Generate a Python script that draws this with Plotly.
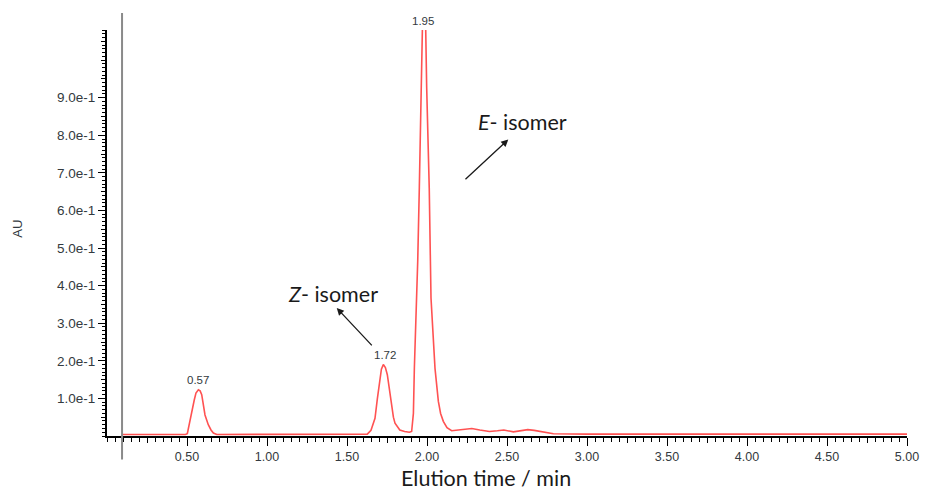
import plotly.graph_objects as go

# ---- data ----
time_min = [0.094, 0.2, 0.3, 0.4, 0.49, 0.502, 0.515, 0.529, 0.545, 0.556, 0.571, 0.582,
            0.592, 0.6125, 0.633, 0.65, 0.665, 0.686, 0.8, 1.0, 1.2, 1.4, 1.55, 1.627,
            1.65, 1.675, 1.69, 1.70, 1.715, 1.727, 1.74, 1.752, 1.773, 1.79, 1.80, 1.83,
            1.86, 1.89, 1.904, 1.915, 1.921, 1.932, 1.942, 1.952, 1.961, 1.966, 1.972,
            1.986, 1.992, 1.998, 2.006, 2.014, 2.025, 2.038, 2.05, 2.071, 2.085, 2.102,
            2.125, 2.154, 2.2, 2.25, 2.28, 2.33, 2.39, 2.44, 2.48, 2.54, 2.60, 2.63,
            2.67, 2.71, 2.79, 3.0, 3.3, 3.45, 3.55, 3.7, 3.85, 3.95, 4.05, 4.15, 4.3,
            4.45, 4.6, 4.72, 4.8, 4.85, 4.9, 5.0]
au = [0.004, 0.004, 0.004, 0.004, 0.004, 0.006, 0.035, 0.065, 0.095, 0.114, 0.123, 0.12,
      0.11, 0.056, 0.03, 0.016, 0.008, 0.004, 0.004, 0.004, 0.004, 0.004, 0.004, 0.005,
      0.015, 0.047, 0.1, 0.137, 0.178, 0.19, 0.182, 0.163, 0.092, 0.05, 0.034, 0.016,
      0.012, 0.01, 0.012, 0.06, 0.18, 0.32, 0.465, 0.66, 0.927, 1.08, 1.10,
      1.10, 1.08, 0.927, 0.8, 0.66, 0.367, 0.26, 0.18, 0.092, 0.06, 0.039,
      0.022, 0.014, 0.016, 0.02, 0.02, 0.016, 0.012, 0.014, 0.016, 0.011, 0.014, 0.017,
      0.015, 0.012, 0.006, 0.005, 0.005, 0.005, 0.006, 0.005, 0.005, 0.007, 0.007, 0.005, 0.006,
      0.006, 0.006, 0.005, 0.005, 0.007, 0.005, 0.005]

x_label_vals = [0.5, 1.0, 1.5, 2.0, 2.5, 3.0, 3.5, 4.0, 4.5, 5.0]
x_label_text = ["0.50", "1.00", "1.50", "2.00", "2.50", "3.00", "3.50", "4.00", "4.50", "5.00"]
x_mid_vals = [0.25, 0.75, 1.25, 1.75, 2.25, 2.75, 3.25, 3.75, 4.25, 4.75]
y_label_vals = [0.1, 0.2, 0.3, 0.4, 0.5, 0.6, 0.7, 0.8, 0.9]
y_label_text = ["1.0e-1", "2.0e-1", "3.0e-1", "4.0e-1", "5.0e-1", "6.0e-1", "7.0e-1", "8.0e-1", "9.0e-1"]
y_mid_vals = [0.05, 0.15, 0.25, 0.35, 0.45, 0.55, 0.65, 0.75, 0.85, 0.95, 1.0, 1.05]

peak_times = [0.567, 1.738]
peak_label_au = [0.150, 0.2165]
peak_text = ["0.57", "1.72"]
top_peak_time = 1.978
top_peak_text = "1.95"

injection_time = 0.094

X_RANGE = [0, 5.0]
Y_RANGE = [0, 1.08]

# page pixel geometry of the plot area (page has an 8px body margin)
OFF = 8
PL, PR, PT, PB = 107, 907, 30, 436.5
W, H = 933 - OFF, 492 - OFF
PW, PH = PR - PL, PB - PT


def px(x):
    return (x - PL) / PW


def py(y):
    return (PB - y) / PH


fig = go.Figure()
fig.add_trace(go.Scatter(x=time_min, y=au, mode="lines",
                         line=dict(color="#ff5252", width=1.6),
                         showlegend=False, hoverinfo="skip"))
# invisible trace carrying the secondary tick axes
fig.add_trace(go.Scatter(x=time_min, y=au, mode="lines", opacity=0,
                         xaxis="x2", yaxis="y2", showlegend=False, hoverinfo="skip"))

tickfont = dict(family="Liberation Sans, Arial", size=12.5, color="#333a40")

fig.update_layout(
    width=W, height=H, autosize=False,
    margin=dict(l=PL - OFF, r=W - (PR - OFF), t=PT - OFF, b=H - (PB - OFF), pad=0),
    paper_bgcolor="white", plot_bgcolor="white",
    xaxis=dict(range=X_RANGE, tickmode="array", tickvals=x_label_vals, ticktext=x_label_text,
               ticks="outside", ticklen=8, tickwidth=1, tickcolor="black",
               showline=True, linecolor="black", linewidth=2, showgrid=False, zeroline=False,
               tickfont=tickfont,
               minor=dict(ticks="outside", dtick=0.05, tick0=0, ticklen=4, tickwidth=1,
                          tickcolor="black", showgrid=False)),
    yaxis=dict(range=Y_RANGE, tickmode="array", tickvals=y_label_vals, ticktext=y_label_text,
               ticks="outside", ticklen=7, tickwidth=1, tickcolor="black",
               showline=True, linecolor="black", linewidth=2, showgrid=False, zeroline=False,
               tickfont=dict(family="Liberation Sans, Arial", size=13.5, color="#333a40"),
               minor=dict(ticks="outside", dtick=0.01, tick0=0, ticklen=3, tickwidth=1,
                          tickcolor="black", showgrid=False)),
    xaxis2=dict(overlaying="x", anchor="y2", side="bottom", range=X_RANGE, tickmode="array",
                tickvals=x_mid_vals, ticks="outside", ticklen=6, tickwidth=1, tickcolor="black",
                showticklabels=False, showline=False, showgrid=False, zeroline=False),
    yaxis2=dict(overlaying="y", anchor="x2", side="left", range=Y_RANGE, tickmode="array",
                tickvals=y_mid_vals, ticks="outside", ticklen=5, tickwidth=1, tickcolor="black",
                showticklabels=False, showline=False, showgrid=False, zeroline=False),
)

fig.add_shape(type="line", xref="x", yref="paper", x0=injection_time, x1=injection_time,
              y0=py(460), y1=py(13), line=dict(color="#8a8a8a", width=2), layer="above")

peak_font = dict(family="Liberation Sans, Arial", size=11.5, color="#333a40")
for t, a, s in zip(peak_times, peak_label_au, peak_text):
    fig.add_annotation(x=t, y=a, xref="x", yref="y", text=s, showarrow=False,
                       font=peak_font, xanchor="center", yanchor="middle")
fig.add_annotation(x=top_peak_time, y=py(21), xref="x", yref="paper", text=top_peak_text,
                   showarrow=False, font=peak_font, xanchor="center", yanchor="middle")

label_font = dict(family="Lato, Open Sans", size=21.5, color="#1a1a1a")
# isomer labels with arrows
fig.add_annotation(x=1.436, y=0.3405, ax=1.664, ay=0.237, xref="x", yref="y",
                   axref="x", ayref="y", text="", showarrow=True, arrowhead=2,
                   arrowsize=1.1, arrowwidth=1.3, arrowcolor="#1a1a1a")
fig.add_annotation(x=1.4125, y=0.378, xref="x", yref="y", text="<i>Z</i>- isomer",
                   showarrow=False, font=label_font, xanchor="center", yanchor="middle")
fig.add_annotation(x=2.508, y=0.789, ax=2.231, ay=0.679, xref="x", yref="y",
                   axref="x", ayref="y", text="", showarrow=True, arrowhead=2,
                   arrowsize=1.1, arrowwidth=1.3, arrowcolor="#1a1a1a")
fig.add_annotation(x=2.594, y=0.836, xref="x", yref="y", text="<i>E</i>- isomer",
                   showarrow=False, font=label_font, xanchor="center", yanchor="middle")

# axis titles
fig.add_annotation(x=px(486), y=py(479), xref="paper", yref="paper",
                   text="Elution time / min", showarrow=False, font=label_font,
                   xanchor="center", yanchor="middle")
fig.add_annotation(x=px(18), y=py(229), xref="paper", yref="paper",
                   text="AU", textangle=-90, showarrow=False,
                   font=dict(family="Liberation Sans, Arial", size=13, color="#333a40"),
                   xanchor="center", yanchor="middle")

fig.write_html("out.html")
